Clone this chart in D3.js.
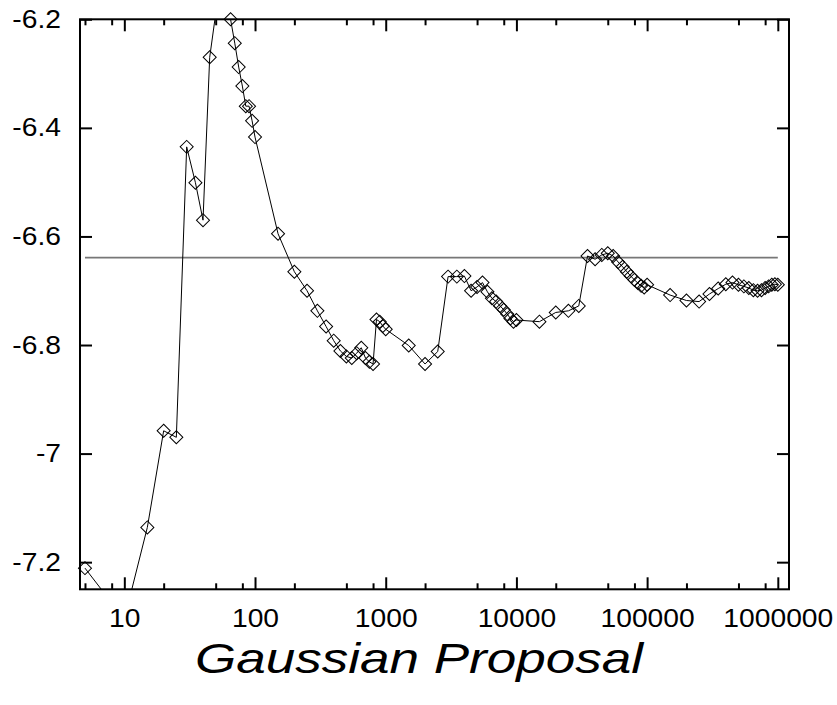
<!DOCTYPE html>
<html>
<head>
<meta charset="utf-8">
<script src="https://cdn.jsdelivr.net/npm/d3@7"></script>
<style>
  html, body { margin: 0; padding: 0; background: #fff; }
  svg { display: block; }
  text { font-family: "Liberation Sans", Arial, Helvetica, sans-serif; fill: #000; }
</style>
</head>
<body>
<svg id="chart" width="837" height="705"></svg>
<script>
// ---- data ----
const samples = [5,10,15,20,25,30,35,40,45,50,55,60,65,70,75,80,85,90,95,100,
  150,200,250,300,350,400,450,500,550,600,650,700,750,800,850,900,950,1000,
  1500,2000,2500,3000,3500,4000,4500,5000,5500,6000,6500,7000,7500,8000,8500,9000,9500,10000,
  15000,20000,25000,30000,35000,40000,45000,50000,55000,60000,65000,70000,75000,80000,85000,90000,95000,100000,
  150000,200000,250000,300000,350000,400000,450000,500000,550000,600000,650000,700000,750000,800000,850000,900000,950000,1000000];
const estimates = [-7.211,-7.305,-7.136,-6.958,-6.970,-6.435,-6.501,-6.570,-6.270,-6.19,-6.13,-6.15,-6.200,-6.244,-6.288,-6.323,-6.360,-6.360,-6.387,-6.417,
  -6.595,-6.665,-6.700,-6.737,-6.766,-6.792,-6.811,-6.821,-6.824,-6.815,-6.805,-6.824,-6.831,-6.835,-6.753,-6.757,-6.765,-6.771,
  -6.801,-6.835,-6.812,-6.674,-6.674,-6.673,-6.700,-6.693,-6.685,-6.702,-6.714,-6.720,-6.728,-6.735,-6.743,-6.751,-6.757,-6.754,
  -6.757,-6.740,-6.737,-6.728,-6.636,-6.642,-6.634,-6.631,-6.636,-6.647,-6.656,-6.665,-6.673,-6.680,-6.686,-6.691,-6.694,-6.689,
  -6.708,-6.718,-6.720,-6.706,-6.696,-6.688,-6.685,-6.689,-6.692,-6.695,-6.699,-6.700,-6.699,-6.695,-6.692,-6.689,-6.688,-6.689];
const referenceValue = -6.639;
const referenceRange = [5, 1000000];
const xMajorTicks = [10,100,1000,10000,100000,1000000];
const xMinorTicks = [5,8,20,50,80,200,500,800,2000,5000,8000,20000,50000,80000,200000,500000,800000];
const yTicks = [-6.2,-6.4,-6.6,-6.8,-7,-7.2];
const yTickLabels = ["-6.2","-6.4","-6.6","-6.8","-7","-7.2"];
const xTitle = "Gaussian Proposal";

// ---- layout ----
const L = 80, R = 789, T = 19.3, B = 589.3;
const svg = d3.select("#chart");
const x = d3.scaleLog().domain([4.58, 1.218e6]).range([L, R]);
const y = d3.scaleLinear().domain([-7.25, -6.2]).range([B, T]);

const data = samples.map((s, i) => ({x: s, y: estimates[i]}));

svg.append("defs").append("clipPath").attr("id", "plotclip")
  .append("rect").attr("x", L).attr("y", T).attr("width", R - L).attr("height", B - T);

// reference line
svg.append("line")
  .attr("x1", x(referenceRange[0])).attr("x2", x(referenceRange[1]))
  .attr("y1", y(referenceValue)).attr("y2", y(referenceValue))
  .attr("stroke", "#777").attr("stroke-width", 1.6);

// data line
svg.append("path").datum(data)
  .attr("clip-path", "url(#plotclip)")
  .attr("fill", "none").attr("stroke", "#000").attr("stroke-width", 1)
  .attr("d", d3.line().x(d => x(d.x)).y(d => y(d.y)));

// markers
const sym = d3.symbol().type(d3.symbolSquare).size(85);
svg.append("g").selectAll("path")
  .data(data.filter(d => d.y >= -7.25 && d.y <= -6.199))
  .join("path")
  .attr("d", sym)
  .attr("transform", d => `translate(${x(d.x)},${y(d.y)}) rotate(45)`)
  .attr("fill", "none").attr("stroke", "#000").attr("stroke-width", 1);

// axes
function styleAxis(g) {
  g.select(".domain").remove();
  g.selectAll(".tick line").attr("stroke", "#000").attr("stroke-width", 2);
}
const LABEL_SX = 1.13;

// bottom major with labels
const gx = svg.append("g").attr("transform", `translate(0,${B})`)
  .call(d3.axisBottom(x).tickValues(xMajorTicks).tickFormat(d3.format("d"))
    .tickSizeInner(-12).tickSizeOuter(0).tickPadding(20));
styleAxis(gx);
gx.selectAll(".tick text").attr("font-size", 25).attr("font-family", "Liberation Sans, Arial, sans-serif")
  .attr("transform", `scale(${LABEL_SX},1)`);
// bottom minor
const gxm = svg.append("g").attr("transform", `translate(0,${B})`)
  .call(d3.axisBottom(x).tickValues(xMinorTicks).tickFormat("").tickSizeInner(-6).tickSizeOuter(0));
styleAxis(gxm);
// top
const gt = svg.append("g").attr("transform", `translate(0,${T})`)
  .call(d3.axisTop(x).tickValues(xMajorTicks).tickFormat("").tickSizeInner(-12).tickSizeOuter(0));
styleAxis(gt);
const gtm = svg.append("g").attr("transform", `translate(0,${T})`)
  .call(d3.axisTop(x).tickValues(xMinorTicks).tickFormat("").tickSizeInner(-6).tickSizeOuter(0));
styleAxis(gtm);
// left with labels
const gy = svg.append("g").attr("transform", `translate(${L},0)`)
  .call(d3.axisLeft(y).tickValues(yTicks).tickFormat((d, i) => yTickLabels[i])
    .tickSizeInner(-12).tickSizeOuter(0).tickPadding(19));
styleAxis(gy);
gy.selectAll(".tick text").attr("font-size", 25).attr("font-family", "Liberation Sans, Arial, sans-serif")
  .each(function() {
    const t = d3.select(this);
    const xx = +t.attr("x");
    t.attr("x", 0).attr("transform", `translate(${xx},0) scale(${LABEL_SX},1)`);
  });
// right
const gr = svg.append("g").attr("transform", `translate(${R},0)`)
  .call(d3.axisRight(y).tickValues(yTicks).tickFormat("").tickSizeInner(-12).tickSizeOuter(0));
styleAxis(gr);

// frame
svg.append("rect").attr("x", L).attr("y", T).attr("width", R - L).attr("height", B - T)
  .attr("fill", "none").attr("stroke", "#000").attr("stroke-width", 2);

// title
svg.append("text")
  .attr("x", 419).attr("y", 673)
  .attr("text-anchor", "middle")
  .attr("font-size", 43).attr("font-style", "italic")
  .attr("textLength", 448).attr("lengthAdjust", "spacingAndGlyphs")
  .text(xTitle);
</script>
</body>
</html>
